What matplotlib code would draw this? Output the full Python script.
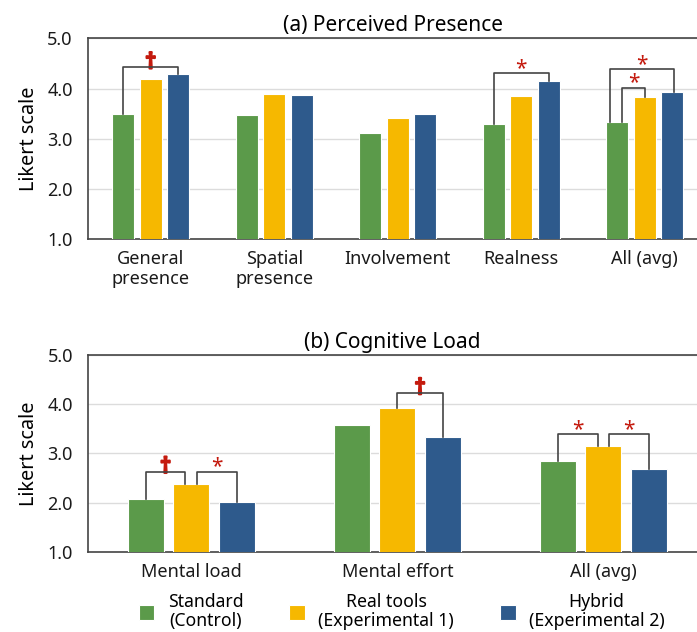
import matplotlib
matplotlib.use("Agg")
import matplotlib.pyplot as plt
import matplotlib.patheffects as pe
import numpy as np

plt.rcParams["font.family"] = ["Noto Sans", "DejaVu Sans"]

# Data
groups = ["Standard\n(Control)", "Real tools\n(Experimental 1)", "Hybrid\n(Experimental 2)"]
colors = ["#5B9A4A", "#F6B800", "#2E5A8C"]

presence_cats = ["General\npresence", "Spatial\npresence", "Involvement", "Realness", "All (avg)"]
presence_standard = [3.50, 3.47, 3.12, 3.29, 3.33]
presence_real = [4.19, 3.89, 3.41, 3.85, 3.83]
presence_hybrid = [4.28, 3.87, 3.49, 4.15, 3.94]

load_cats = ["Mental load", "Mental effort", "All (avg)"]
load_standard = [2.07, 3.58, 2.85]
load_real = [2.38, 3.92, 3.15]
load_hybrid = [2.02, 3.34, 2.68]

SPINE = "#444444"
SIG = "#C41A0E"

fig = plt.figure(figsize=(6.97, 6.32), dpi=100)
ax1 = fig.add_axes([0.1263, 0.6214, 0.8737, 0.318])
ax2 = fig.add_axes([0.1267, 0.1271, 0.8733, 0.3112])


def draw_bars(ax, cats, series, width, step):
    x = np.arange(len(cats))
    for k, (vals, c) in enumerate(zip(series, colors)):
        ax.bar(x + (k - 1) * step, vals, width=width, bottom=0, color=c,
               edgecolor="white", linewidth=0.8, zorder=3, label=groups[k])
    ax.set_ylim(1.0, 5.0)
    ax.set_yticks([1, 2, 3, 4, 5])
    ax.set_yticklabels(["1.0", "2.0", "3.0", "4.0", "5.0"])
    ax.set_xticks(x)
    ax.set_xticklabels(cats, linespacing=1.15)
    ax.tick_params(axis="both", length=0, labelsize=13, colors="#1a1a1a")
    ax.tick_params(axis="x", pad=8)
    ax.tick_params(axis="y", pad=11)
    ax.grid(axis="y", color="#dcdcdc", linewidth=1, zorder=0)
    for s in ["top", "left", "bottom"]:
        ax.spines[s].set_color(SPINE)
        ax.spines[s].set_linewidth(1.2)
    ax.spines["right"].set_visible(False)
    ax.set_ylabel("Likert scale", fontsize=14.3, labelpad=6)
    return x


def bracket(ax, x1, y1, x2, y2, h, sym, dy):
    ax.plot([x1, x1, x2, x2], [y1, h, h, y2], color=SPINE, lw=1.2, zorder=4)
    if sym == "†":
        ax.text((x1 + x2) / 2, h + dy, sym, ha="center", va="bottom",
                color=SIG, fontsize=15.5, fontweight="bold",
                path_effects=[pe.withStroke(linewidth=1.6, foreground=SIG)])
    else:
        ax.text((x1 + x2) / 2, h + dy, sym, ha="center", va="bottom",
                color=SIG, fontsize=15)


# (a) Perceived Presence
w1, s1 = 0.178, 0.223
x = draw_bars(ax1, presence_cats, [presence_standard, presence_real, presence_hybrid], w1, s1)
ax1.set_xlim(-0.508, 4.423)
ax1.set_title("(a) Perceived Presence", fontsize=15, pad=5)
bracket(ax1, x[0] - s1, presence_standard[0], x[0] + s1, presence_hybrid[0], 4.43, "†", -0.13)
bracket(ax1, x[3] - s1, presence_standard[3], x[3] + s1, presence_hybrid[3], 4.30, "*", -0.12)
bracket(ax1, x[4] - s1 - 0.055, presence_standard[4], x[4] + s1 + 0.015, presence_hybrid[4], 4.38, "*", -0.12)
bracket(ax1, x[4] - s1 + 0.04, presence_standard[4], x[4], presence_real[4], 4.02, "*", -0.12)

# (b) Cognitive Load
w2, s2 = 0.175, 0.221
x = draw_bars(ax2, load_cats, [load_standard, load_real, load_hybrid], w2, s2)
ax2.set_xlim(-0.501, 2.455)
ax2.set_title("(b) Cognitive Load", fontsize=15, pad=5)
bracket(ax2, x[0] - s2, load_standard[0], x[0] - 0.03, load_real[0], 2.63, "†", -0.13)
bracket(ax2, x[0] + 0.025, load_real[0], x[0] + s2, load_hybrid[0], 2.63, "*", -0.12)
bracket(ax2, x[1], load_real[1], x[1] + s2, load_hybrid[1], 4.23, "†", -0.13)
bracket(ax2, x[2] - s2, load_standard[2], x[2] - 0.025, load_real[2], 3.39, "*", -0.12)
bracket(ax2, x[2] + 0.03, load_real[2], x[2] + s2, load_hybrid[2], 3.39, "*", -0.12)

# Legend
handles, labels = ax2.get_legend_handles_labels()
leg = fig.legend(handles, labels, loc="center", bbox_to_anchor=(0.576, 0.032),
                 ncol=3, frameon=False, fontsize=12.7, handlelength=0.9,
                 handleheight=0.9, handletextpad=0.75, columnspacing=2.6)
for t in leg.get_texts():
    t.set_multialignment("center")
    t.set_linespacing(1.05)

fig.savefig("out.png", dpi=100)
